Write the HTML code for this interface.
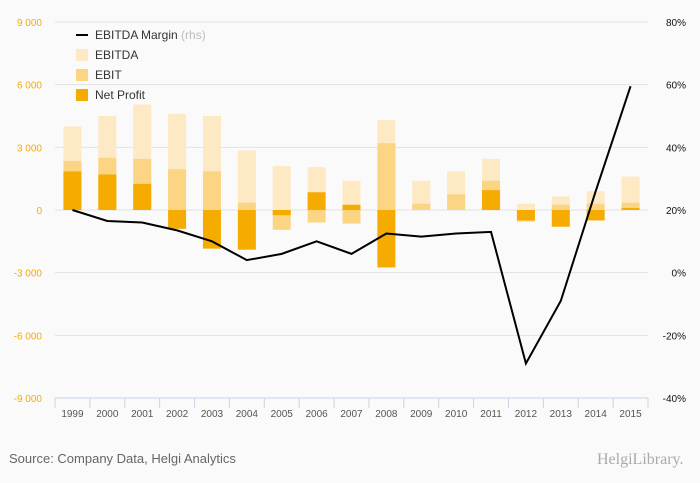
<!DOCTYPE html>
<html><head><meta charset="utf-8"><style>
body{margin:0;background:#fafafa;font-family:"Liberation Sans",sans-serif}
svg{display:block}
</style></head><body>
<svg width="700" height="483" id="c">
<rect width="700" height="483" fill="#fafafa"/>
<g id="grid"></g><g id="bars"></g><g id="line"></g><g id="axes"></g>
<g font-size="12" fill="#333">
<line x1="76" y1="35" x2="88" y2="35" stroke="#000" stroke-width="2"/>
<text x="95" y="39">EBITDA Margin <tspan fill="#bbb">(rhs)</tspan></text>
<rect x="76" y="49" width="12" height="12" fill="#fde9c3"/>
<text x="95" y="59">EBITDA</text>
<rect x="76" y="69" width="12" height="12" fill="#fcd584"/>
<text x="95" y="79">EBIT</text>
<rect x="76" y="89" width="12" height="12" fill="#f6ab00"/>
<text x="95" y="99">Net Profit</text>
</g>
<text x="9" y="463" font-size="13" fill="#666">Source: Company Data, Helgi Analytics</text>
<text x="597" y="464" font-size="16" fill="#aaa" font-family="Liberation Serif,serif">HelgiLibrary.</text>
</svg>
<script>
const years=["1999","2000","2001","2002","2003","2004","2005","2006","2007","2008","2009","2010","2011","2012","2013","2014","2015"];
const ebitda=[4000,4500,5050,4600,4500,2850,2100,2050,1400,4300,1400,1850,2450,300,650,900,1600];
const ebit=[2350,2500,2450,1950,1850,350,-950,-600,-650,3200,300,750,1400,-550,250,300,350];
const netProfit=[1850,1700,1250,-900,-1850,-1900,-250,850,250,-2750,0,0,950,-500,-800,-500,100];
const margin=[20,16.5,16,13.5,10,4,6,10,6,12.5,11.5,12.5,13,-29,-9,26,59.5];
const leftTicks=[9000,6000,3000,0,-3000,-6000,-9000];
const rightTicks=[80,60,40,20,0,-20,-40];
const NS="http://www.w3.org/2000/svg";
const x0=55,x1=648,yTop=22,yBot=398;
const bw=(x1-x0)/years.length;
const yL=v=>yTop+(9000-v)/18000*(yBot-yTop);
const yR=v=>yTop+(80-v)/120*(yBot-yTop);
const xC=i=>x0+bw*(i+0.5);
function mk(tag,attrs,parent){const e=document.createElementNS(NS,tag);for(const k in attrs)e.setAttribute(k,attrs[k]);document.getElementById(parent).appendChild(e);return e;}
leftTicks.forEach((t,i)=>{
 const y=yL(t);
 if(i<leftTicks.length-1){const g=mk('line',{x1:x0,x2:x1,y1:y,y2:y,stroke:'#e3e3e3'},'grid');
 
 }
 const tx=mk('text',{x:42,y:y+4,'font-size':10,fill:'#f6ab00','text-anchor':'end'},'axes');
 tx.textContent=t===0?'0':(t<0?'-':'')+Math.abs(t).toLocaleString('en').replace(',',' ');
 
 
});
rightTicks.forEach(t=>{
 const tx=mk('text',{x:686,y:yR(t)+4,'font-size':10,fill:'#111','text-anchor':'end'},'axes');
 tx.textContent=t+'%';
 
 
});
const ax=mk('line',{x1:x0,x2:x1,y1:yBot,y2:yBot,stroke:'#c8d4e6'},'axes');


for(let i=0;i<=years.length;i++){const tk=mk('line',{x1:x0+bw*i,x2:x0+bw*i,y1:yBot,y2:yBot+10,stroke:'#c8d4e6'},'axes');
 
 }
years.forEach((yr,i)=>{
 const tx=mk('text',{x:xC(i),y:yBot+19,'font-size':10,fill:'#555','text-anchor':'middle'},'axes');
 tx.textContent=yr;
 
 
 [[ebitda,'#fde9c3','bar-ebitda'],[ebit,'#fcd584','bar-ebit'],[netProfit,'#f6ab00','bar-net-profit']].forEach(([arr,col,nm])=>{
  const v=arr[i],ya=yL(Math.max(v,0)),yb=yL(Math.min(v,0));
  const r=mk('rect',{x:xC(i)-9,y:ya,width:18,height:Math.max(yb-ya,0),fill:col},'bars');
  
  
 });
});
const p=mk('polyline',{points:margin.map((m,i)=>xC(i)+','+yR(m)).join(' '),fill:'none',stroke:'#000','stroke-width':2},'line');


</script>
</body></html>
